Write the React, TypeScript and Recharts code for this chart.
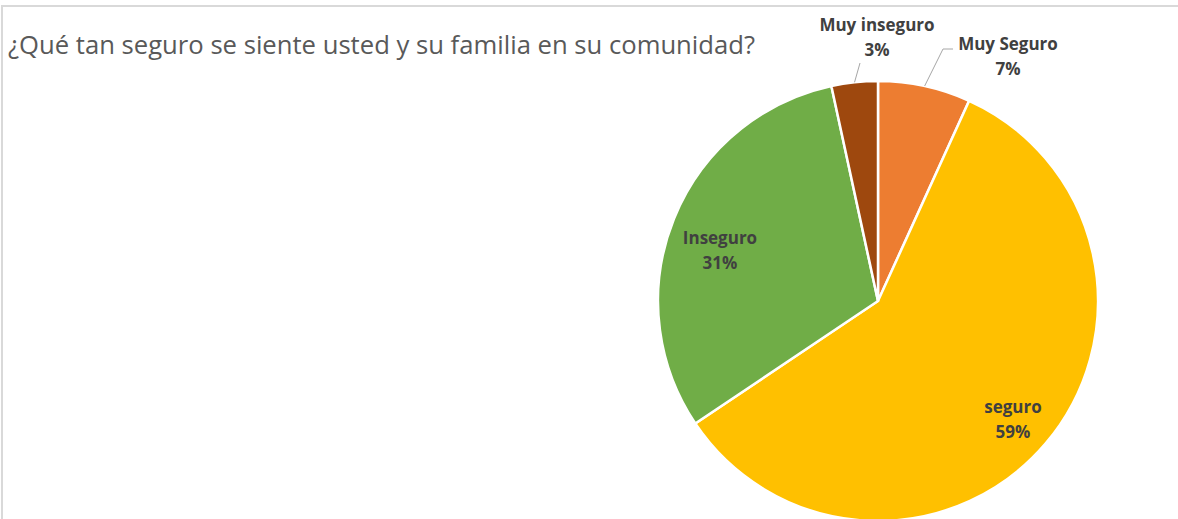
import { PieChart, Pie, Cell } from 'recharts'

const CATEGORIES = ['Muy Seguro', 'seguro', 'Inseguro', 'Muy inseguro']
const VALUES = [6.8, 58.8, 31.0, 3.4]
const PCT_LABELS = ['7%', '59%', '31%', '3%']
const COLORS = ['#ED7D31', '#FFC000', '#70AD47', '#9E480E']

const TITLE = '¿Qué tan seguro se siente usted y su familia en su comunidad?'

// label placement relative to pie centre (text centre x, first baseline y)
const LABEL_OFFSETS = [
  { dx: 130, dy: -251, line: [{ dx: 65, dy: -252 }, { dx: 75, dy: -252 }] },
  { dx: 135, dy: 112 },
  { dx: -158, dy: -57 },
  { dx: -1, dy: -270, line: [{ dx: -18, dy: -238 }] },
]

const data = CATEGORIES.map((name, i) => ({ name, value: VALUES[i], pct: PCT_LABELS[i] }))

const RAD = Math.PI / 180

function renderLabel(props: any) {
  const { cx, cy, midAngle, outerRadius, index } = props
  const o = LABEL_OFFSETS[index]
  const x = cx + o.dx
  const y = cy + o.dy
  let path = null
  if (o.line) {
    const ax = cx + outerRadius * Math.cos(-midAngle * RAD)
    const ay = cy + outerRadius * Math.sin(-midAngle * RAD)
    const pts = [[ax, ay], ...o.line.map((p) => [cx + p.dx, cy + p.dy])]
    path = (
      <polyline
        points={pts.map((p) => p.join(',')).join(' ')}
        fill="none"
        stroke="#A6A6A6"
        strokeWidth={1}
      />
    )
  }
  return (
    <g key={`lbl-${index}`}>
      {path}
      <text
        x={x}
        y={y}
        textAnchor="middle"
        fill="#404040"
        fontFamily="'Open Sans', sans-serif"
        fontWeight={700}
        fontSize={17}
      >
        <tspan x={x} y={y}>{CATEGORIES[index]}</tspan>
        <tspan x={x} y={y + 25}>{PCT_LABELS[index]}</tspan>
      </text>
    </g>
  )
}

export default function App() {
  return (
    <div
      style={{
        position: 'absolute',
        left: 0,
        top: 0,
        width: 1178,
        height: 519,
        overflow: 'hidden',
        background: '#fff',
      }}
    >
      <div
        style={{
          position: 'absolute',
          left: 1,
          top: 5,
          width: 1300,
          height: 700,
          border: '2px solid #D9D9D9',
        }}
      />
      <svg width={1178} height={519} style={{ position: 'absolute', left: 0, top: 0 }}>
        <text
          x={8}
          y={54}
          fill="#595959"
          fontFamily="'Open Sans', sans-serif"
          fontSize={25}
          textLength={747}
          lengthAdjust="spacingAndGlyphs"
        >
          {TITLE}
        </text>
      </svg>
      <div style={{ position: 'absolute', left: 0, top: 0 }}>
        <PieChart width={1178} height={519} margin={{ top: 0, right: 0, bottom: 0, left: 0 }}>
          <Pie
            data={data}
            dataKey="value"
            nameKey="name"
            cx={878}
            cy={301}
            outerRadius={220}
            startAngle={90}
            endAngle={-270}
            stroke="#FFFFFF"
            strokeWidth={2.5}
            label={renderLabel}
            labelLine={false}
            isAnimationActive={false}
          >
            {data.map((d, i) => (
              <Cell key={d.name} fill={COLORS[i]} />
            ))}
          </Pie>
        </PieChart>
      </div>
    </div>
  )
}
